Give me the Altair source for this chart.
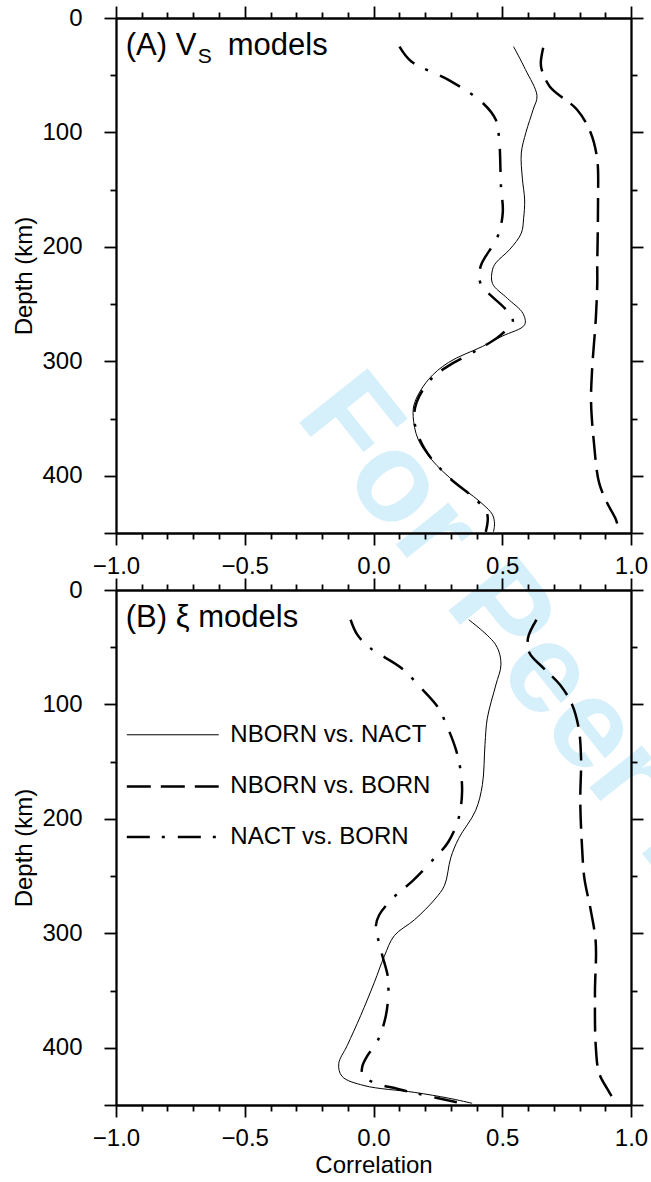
import altair as alt
import pandas as pd

FONT = "Liberation Sans"

# ---------------- Panel A (Vs models) ----------------
a_nbnact_depth = [25, 45, 68, 80, 100, 118, 140, 159, 175, 188, 202, 214, 220, 232, 245, 258, 268, 278, 287, 301, 316, 336, 348, 368, 386, 406, 422, 434, 442, 449]
a_nbnact_corr = [0.544, 0.590, 0.635, 0.620, 0.592, 0.574, 0.578, 0.587, 0.583, 0.574, 0.530, 0.475, 0.462, 0.462, 0.520, 0.580, 0.587, 0.500, 0.423, 0.291, 0.213, 0.160, 0.154, 0.173, 0.226, 0.318, 0.410, 0.462, 0.470, 0.466]

a_nbborn_depth = [26, 38, 44, 60, 80, 100, 124, 159, 217, 232, 264, 307, 336, 371, 406, 424, 438, 449]
a_nbborn_corr = [0.659, 0.650, 0.652, 0.685, 0.790, 0.843, 0.869, 0.872, 0.869, 0.869, 0.863, 0.849, 0.845, 0.856, 0.876, 0.908, 0.941, 0.954]

a_nactborn_depth = [25, 38, 54, 74, 89, 106, 147, 170, 191, 217, 232, 255, 265, 278, 291, 304, 315, 336, 354, 377, 401, 422, 434, 449]
a_nactborn_corr = [0.101, 0.147, 0.291, 0.423, 0.475, 0.488, 0.495, 0.502, 0.482, 0.416, 0.416, 0.515, 0.541, 0.488, 0.396, 0.291, 0.226, 0.167, 0.160, 0.200, 0.291, 0.403, 0.442, 0.436]

# ---------------- Panel B (xi models) ----------------
b_nbnact_depth = [26, 48, 65, 83, 112, 135, 170, 193, 217, 234, 258, 270, 288, 302, 320, 343, 372, 398, 414, 425, 433, 439, 444, 448.5]
b_nbnact_corr = [0.370, 0.475, 0.495, 0.475, 0.442, 0.433, 0.423, 0.396, 0.331, 0.300, 0.276, 0.239, 0.160, 0.081, 0.042, 0.003, -0.050, -0.102, -0.135, -0.122, -0.037, 0.160, 0.291, 0.383]

b_nbborn_depth = [26, 42, 55, 68, 83, 100, 121, 147, 185, 225, 252, 279, 308, 352, 398, 422, 436, 448]
b_nbborn_corr = [0.633, 0.600, 0.606, 0.659, 0.725, 0.771, 0.797, 0.806, 0.803, 0.810, 0.819, 0.843, 0.863, 0.860, 0.863, 0.876, 0.908, 0.941]

b_nactborn_depth = [26, 39, 51, 68, 86, 103, 115, 138, 156, 176, 199, 220, 237, 254, 268, 284, 294, 307, 320, 337, 350, 372, 394, 407, 416, 423, 430, 436, 443.5, 448.5]
b_nactborn_corr = [-0.089, -0.063, -0.011, 0.107, 0.186, 0.252, 0.278, 0.318, 0.337, 0.344, 0.331, 0.291, 0.226, 0.153, 0.081, 0.022, 0.009, 0.020, 0.035, 0.055, 0.058, 0.048, 0.016, -0.024, -0.043, -0.043, -0.004, 0.095, 0.239, 0.344]

legend_labels = ["NBORN vs. NACT", "NBORN vs. BORN", "NACT vs. BORN"]
legend_depths = [126.5, 171.6, 215.8]
legend_x_start = -0.958
legend_x_end = -0.601
legend_x_text = -0.556

x_ticks = [round(-1 + 0.1 * i, 1) for i in range(21)]
y_ticks = [50 * i for i in range(10)]

MAJOR_X = "abs(datum.value * 2 - round(datum.value * 2)) < 0.001"
MAJOR_Y = "datum.value % 100 === 0 || datum.value === 450"
LABEL_Y = "datum.value % 100 === 0"

STYLE_SOLID = dict(strokeWidth=1.0)
STYLE_DASH = dict(strokeWidth=2.5, strokeDash=[24, 10])
STYLE_DASHDOT = dict(strokeWidth=2.5, strokeDash=[23, 12, 3, 13])

xscale = alt.Scale(domain=[-1, 1], nice=False, zero=False)
yscale = alt.Scale(domain=[0, 450], nice=False, zero=False, reverse=True)

W = 515
H = 515
GAP = 57
LEFT = 116
TOP = 18


def x_axis(orient, labels, title=None):
    kw = dict(
        orient=orient, values=x_ticks, format=".1f",
        tickSize={"condition": {"test": MAJOR_X, "value": 12}, "value": 6},
        tickWidth=1.8, tickColor="black", domainWidth=2.3, domainColor="black",
        grid=False, labels=labels, labelFont=FONT, labelFontSize=24,
        labelColor="black", labelPadding=9, labelOverlap=False, labelFlush=False,
        labelBound=False, zindex=1, title=title,
        titleFont=FONT, titleFontSize=24, titleFontWeight="normal",
        titleColor="black", titlePadding=3,
    )
    if labels:
        kw["labelExpr"] = MAJOR_X + " ? datum.label : ''"
    return alt.Axis(**kw)


def y_axis(orient, labels, title=None):
    kw = dict(
        orient=orient, values=y_ticks, format="d",
        tickSize={"condition": {"test": MAJOR_Y, "value": 12}, "value": 6},
        tickWidth=1.8, tickColor="black", domainWidth=2.3, domainColor="black",
        grid=False, labels=labels, labelFont=FONT, labelFontSize=24,
        labelColor="black", labelPadding=22, labelOverlap=False, labelFlush=False,
        labelBound=False, zindex=1, title=title,
        titleFont=FONT, titleFontSize=24, titleFontWeight="normal",
        titleColor="black", titlePadding=5,
    )
    if labels:
        kw["labelExpr"] = LABEL_Y + " ? datum.label : ''"
    return alt.Axis(**kw)


def line_layer(depth, corr, style, xax, yax):
    df = pd.DataFrame({"depth": depth, "corr": corr})
    return alt.Chart(df).mark_line(color="black", interpolate="catmull-rom", **style).encode(
        x=alt.X("corr:Q", scale=xscale, axis=xax),
        y=alt.Y("depth:Q", scale=yscale, axis=yax),
        order=alt.Order("depth:Q"),
    )


def panel(series, xtitle, extra_front, extra_back):
    layers = list(extra_back)
    for i, (d, c, st) in enumerate(series):
        if i == 0:
            xax = x_axis("bottom", True, xtitle)
            yax = y_axis("left", True, "Depth (km)")
        elif i == 1:
            xax = x_axis("top", False)
            yax = y_axis("right", False)
        else:
            xax = None
            yax = None
        layers.append(line_layer(d, c, st, xax, yax))
    layers += extra_front
    return alt.layer(*layers).resolve_axis(x="independent", y="independent").properties(width=W, height=H)


def title_layers(prefix, sub, suffix):
    df = pd.DataFrame({"x": [-0.962], "depth": [32]})
    base = alt.Chart(df)
    enc = dict(x=alt.X("x:Q", scale=xscale, axis=None), y=alt.Y("depth:Q", scale=yscale, axis=None))
    out = [base.mark_text(text=prefix, align="left", baseline="alphabetic", font=FONT, fontSize=31, color="black").encode(**enc)]
    if sub:
        out.append(base.mark_text(text=sub, align="left", baseline="alphabetic", font=FONT, fontSize=21, color="black", dx=72, dy=8).encode(**enc))
        out.append(base.mark_text(text=suffix, align="left", baseline="alphabetic", font=FONT, fontSize=31, color="black", dx=102).encode(**enc))
    return out


# watermark (drawn underneath everything in panel A, spills over panel B)
wm_df = pd.DataFrame({"t": ["For Peer Review"]})
watermark = alt.Chart(wm_df).mark_text(
    angle=51.5, align="left", baseline="alphabetic", font=FONT, fontWeight="bold",
    fontSize=127, color="#D5EFFB",
).encode(x=alt.value(178), y=alt.value(398), text="t:N")

panel_a = panel(
    [
        (a_nbnact_depth, a_nbnact_corr, STYLE_SOLID),
        (a_nbborn_depth, a_nbborn_corr, STYLE_DASH),
        (a_nactborn_depth, a_nactborn_corr, STYLE_DASHDOT),
    ],
    None,
    title_layers("(A) V", "S", "models"),
    [watermark],
)

# legend for panel B
leg_styles = [STYLE_SOLID, STYLE_DASH, STYLE_DASHDOT]
leg_layers = []
for lab, dep, st in zip(legend_labels, legend_depths, leg_styles):
    ldf = pd.DataFrame({"x": [legend_x_start], "x2": [legend_x_end], "depth": [dep], "label": [lab], "xt": [legend_x_text]})
    leg_layers.append(
        alt.Chart(ldf).mark_rule(color="black", **st).encode(
            x=alt.X("x:Q", scale=xscale, axis=None), x2="x2:Q",
            y=alt.Y("depth:Q", scale=yscale, axis=None),
        )
    )
    leg_layers.append(
        alt.Chart(ldf).mark_text(align="left", baseline="middle", font=FONT, fontSize=24, color="black").encode(
            x=alt.X("xt:Q", scale=xscale, axis=None),
            y=alt.Y("depth:Q", scale=yscale, axis=None),
            text="label:N",
        )
    )

panel_b = panel(
    [
        (b_nbnact_depth, b_nbnact_corr, STYLE_SOLID),
        (b_nbborn_depth, b_nbborn_corr, STYLE_DASH),
        (b_nactborn_depth, b_nactborn_corr, STYLE_DASHDOT),
    ],
    "Correlation",
    title_layers("(B) ξ models", None, None) + leg_layers,
    [],
)

# autosize "none": the root view reports width = W and height = 0,
# so the paddings below make the page exactly 651 x 1182 and clip the watermark
chart = alt.vconcat(panel_a, panel_b, spacing=GAP, bounds="flush").properties(
    autosize=alt.AutoSizeParams(type="none"),
    padding={"left": LEFT, "top": TOP, "right": 651 - LEFT - W, "bottom": 1182 - TOP},
    background="white",
).configure_view(strokeWidth=0)

chart.save("out.html", embed_options={"renderer": "svg", "actions": False})
